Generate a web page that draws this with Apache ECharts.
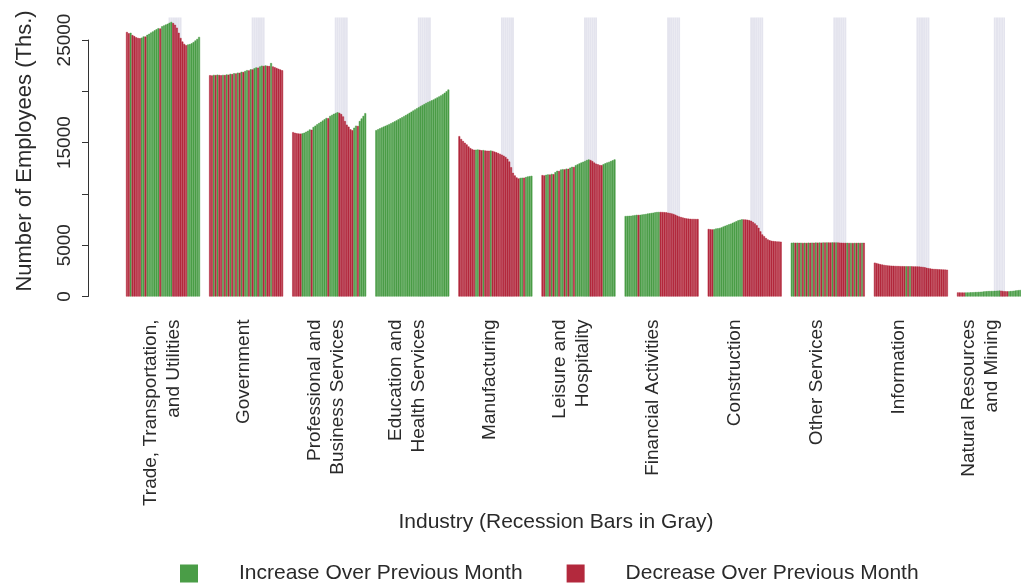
<!DOCTYPE html>
<html><head><meta charset="utf-8">
<script src="https://cdn.jsdelivr.net/npm/echarts@6/dist/echarts.min.js"></script>
<style>html,body{margin:0;padding:0;background:#fff}#c{width:1021px;height:585px}</style>
</head><body><div id="c"></div>
<script>
// ---------- data ----------
const industries = [
  'Trade, Transportation,\nand Utilities', 'Government', 'Professional and\nBusiness Services',
  'Education and\nHealth Services', 'Manufacturing', 'Leisure and\nHospitality',
  'Financial Activities', 'Construction', 'Other Services', 'Information',
  'Natural Resources\nand Mining'
];
const quarters = [
  '2002Q1','2002Q2','2002Q3','2002Q4','2003Q1','2003Q2','2003Q3','2003Q4',
  '2004Q1','2004Q2','2004Q3','2004Q4','2005Q1','2005Q2','2005Q3','2005Q4',
  '2006Q1','2006Q2','2006Q3','2006Q4','2007Q1','2007Q2','2007Q3','2007Q4',
  '2008Q1','2008Q2','2008Q3','2008Q4','2009Q1','2009Q2','2009Q3','2009Q4',
  '2010Q1','2010Q2','2010Q3','2010Q4','2011Q1','2011Q2','2011Q3','2011Q4'
];
// 1 = quarter inside a recession (Dec 2007 - Jun 2009)
const recession = [0,0,0,0,0,0,0,0, 0,0,0,0,0,0,0,0, 0,0,0,0,0,0,0,1, 1,1,1,1,1,1,0,0, 0,0,0,0,0,0,0,0];
const recessionTop = 27200;

const trade = [25780,25650,25700,25480, 25380,25260,25200,25170, 25230,25350,25330,25500,
  25600,25720,25830,25950, 26050,26150,26120,26330, 26420,26500,26580,26680,
  26760,26650,26480,26200, 25700,25200,24850,24620, 24490,24560,24600,24680, 24800,24950,25100,25300];
const government = [21570,21540,21600,21580, 21620,21590,21560,21600, 21580,21640,21620,21700,
  21680,21760,21740,21820, 21800,21900,21880,21980, 22060,22030,22150,22130,
  22250,22330,22300,22420, 22500,22470,22520,22480, 22460,22750,22420,22350, 22270,22200,22120,22050];
const professional = [16020,15950,15900,15880, 15870,15900,15960,16050, 16150,16280,16250,16520,
  16650,16780,16900,17020, 17150,17280,17400,17380, 17600,17700,17800,17880,
  17960,17900,17780,17550, 17100,16750,16550,16300, 16210,16450,16650,16620, 17100,17350,17600,17870];
const education = [16210,16300,16390,16480, 16560,16640,16720,16800, 16890,16980,17070,17170,
  17270,17370,17470,17580, 17680,17790,17900,18010, 18120,18230,18340,18450,
  18560,18660,18760,18860, 18950,19040,19120,19200, 19300,19400,19500,19600, 19720,19850,20000,20170];
const manufacturing = [15630,15350,15150,14980, 14820,14620,14460,14360, 14300,14310,14320,14300,
  14250,14270,14220,14210, 14200,14220,14180,14120, 14050,13980,13900,13820,
  13720,13600,13420,13150, 12600,12050,11800,11600, 11500,11560,11580,11580, 11640,11700,11730,11760];
const leisure = [11830,11800,11860,11900, 11880,11950,11920,12120, 12250,12230,12370,12410,
  12390,12460,12440,12560, 12640,12620,12800,12880, 12970,13050,13130,13200,
  13300,13360,13300,13200, 13050,12950,12880,12820, 12800,12900,12980,13060, 13120,13200,13280,13360];
const financial = [7840,7850,7860,7870, 7900,7930,7960,7950, 7960,7990,8010,8040,
  8080,8110,8140,8170, 8200,8230,8240,8240, 8230,8220,8200,8170,
  8130,8090,8040,7970, 7880,7800,7740,7690, 7640,7610,7590,7570, 7560,7560,7550,7550];
const construction = [6580,6550,6540,6560, 6620,6640,6680,6740, 6820,6900,6960,7030,
  7100,7180,7260,7340, 7420,7480,7520,7510, 7500,7480,7440,7380,
  7250,7120,6950,6700, 6350,6050,5880,5700, 5560,5480,5430,5400, 5380,5360,5350,5340];
const otherServices = [5240,5250,5235,5245, 5230,5240,5225,5235, 5220,5245,5235,5250,
  5240,5255,5245,5260, 5250,5265,5255,5270, 5265,5260,5275,5265,
  5270,5260,5250,5240, 5230,5225,5230,5220, 5225,5215,5225,5220, 5230,5225,5235,5230];
const information = [3300,3250,3200,3150, 3110,3080,3050,3030, 3010,3000,2990,2980,
  2970,2965,2960,2955, 2950,2955,2945,2950, 2940,2935,2930,2925,
  2915,2900,2880,2850, 2800,2760,2730,2700, 2680,2670,2660,2650, 2640,2630,2620,2610];
const naturalResources = [400,395,390,385, 385,390,395,400, 405,410,420,430,
  440,450,460,470, 485,500,515,525, 530,535,540,550,
  560,570,575,565, 540,515,505,500, 510,525,540,560, 580,600,620,640];

const panels = [trade, government, professional, education, manufacturing, leisure,
  financial, construction, otherServices, information, naturalResources];

const yTicks = [0, 5000, 10000, 15000, 20000, 25000];
const yTickLabels = ['0', '5000', '', '15000', '', '25000'];
const legendNames = ['Increase Over Previous Month', 'Decrease Over Previous Month'];

// ---------- layout / style ----------
const GREEN = '#4a9d47', RED = '#b3293d', BAND = '#e4e4ee', TXT = '#2a2a2a';
const FONT = 'Liberation Sans, Arial, sans-serif';
const PANEL_LEFT = 126, PANEL_STEP = 83.1, PANEL_W = 74, TOP = 40, H = 256.5;

const grids = [], xAxes = [], yAxes = [], series = [];
panels.forEach((vals, i) => {
  grids.push({ left: PANEL_LEFT + PANEL_STEP * i, top: TOP, width: PANEL_W, height: H });
  xAxes.push({ gridIndex: i, type: 'category', data: quarters, show: false, boundaryGap: true });
  yAxes.push(i === 0 ? {
    gridIndex: 0, type: 'value', min: 0, max: 25000, interval: 5000, offset: 38,
    axisLine: { show: true, lineStyle: { color: '#333', width: 1 } },
    axisTick: { show: true, length: 6, lineStyle: { color: '#333' } },
    axisLabel: { rotate: 90, margin: 14, fontSize: 19, color: TXT, fontFamily: FONT,
      formatter: v => yTickLabels[yTicks.indexOf(v)] || '' },
    splitLine: { show: false }
  } : { gridIndex: i, type: 'value', min: 0, max: 25000, show: false, splitLine: { show: false } });
  const dir = vals.map((v, k) => k === 0 ? vals[1] > vals[0] : v > vals[k - 1]);
  const common = { type: 'bar', xAxisIndex: i, yAxisIndex: i, barCategoryGap: '0%', barGap: '-100%',
    clip: false, silent: true };
  series.push(Object.assign({}, common, {
    name: 'recession', z: 1, itemStyle: { color: BAND },
    data: recession.map(f => f ? recessionTop : '-')
  }));
  series.push(Object.assign({}, common, {
    name: legendNames[0], z: 3, itemStyle: { color: GREEN, borderColor: GREEN, borderWidth: 0.5 },
    data: vals.map((v, k) => dir[k] ? v : '-')
  }));
  series.push(Object.assign({}, common, {
    name: legendNames[1], z: 3, itemStyle: { color: RED, borderColor: RED, borderWidth: 0.5 },
    data: vals.map((v, k) => dir[k] ? '-' : v)
  }));
});

// category axis that carries the industry labels
const L = panels.length;
grids.push({ left: PANEL_LEFT - (PANEL_STEP - PANEL_W) / 2, top: TOP, width: PANEL_STEP * L, height: H });
xAxes.push({ gridIndex: L, type: 'category', data: industries,
  axisLine: { show: false }, axisTick: { show: false },
  axisLabel: { interval: 0, rotate: 90, margin: 23, fontSize: 19, lineHeight: 23, color: TXT, fontFamily: FONT } });
yAxes.push({ gridIndex: L, type: 'value', show: false, min: 0, max: 1 });

const chart = echarts.init(document.getElementById('c'), null, { renderer: 'canvas' });
chart.setOption({
  animation: false,
  backgroundColor: '#fff',
  grid: grids, xAxis: xAxes, yAxis: yAxes, series: series,
  legend: {
    data: legendNames, left: 180, top: 563, padding: 0, icon: 'rect', itemWidth: 16, itemHeight: 16,
    itemGap: 44, selectedMode: false,
    textStyle: { fontSize: 21, color: TXT, fontFamily: FONT, padding: [0, 0, 0, 37] }
  },
  graphic: [
    { type: 'text', x: 25, y: 151, rotation: Math.PI / 2,
      style: { text: 'Number of Employees (Ths.)', fill: TXT, font: '22px ' + FONT,
        textAlign: 'center', textVerticalAlign: 'middle' } },
    { type: 'text', x: 556, y: 522,
      style: { text: 'Industry (Recession Bars in Gray)', fill: TXT, font: '21px ' + FONT,
        textAlign: 'center', textVerticalAlign: 'middle' } }
  ]
});
</script></body></html>
